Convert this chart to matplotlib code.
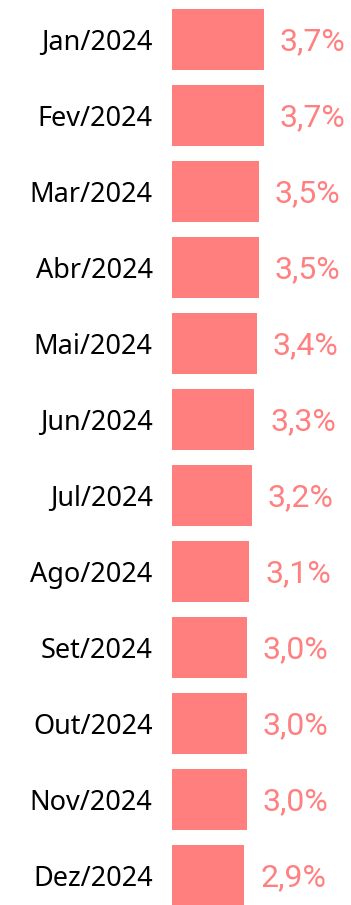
import matplotlib.pyplot as plt

meses = ["Jan/2024", "Fev/2024", "Mar/2024", "Abr/2024", "Mai/2024", "Jun/2024",
         "Jul/2024", "Ago/2024", "Set/2024", "Out/2024", "Nov/2024", "Dez/2024"]
taxa = [3.7, 3.7, 3.5, 3.5, 3.4, 3.3, 3.2, 3.1, 3.0, 3.0, 3.0, 2.9]

cor_barra = "#FF7F7F"
cor_texto = "#FF8080"

fig = plt.figure(figsize=(3.51, 9.05), dpi=100)
ax = fig.add_axes([172 / 351, 0, 179 / 351, 1])

pos = list(range(len(meses)))
ax.barh(pos, taxa, height=0.80, color=cor_barra)

for i, v in enumerate(taxa):
    ax.annotate(f"{v:.1f}%".replace(".", ","), (v, i), xytext=(11.5, -1.5),
                textcoords="offset points", ha="left", va="center",
                fontsize=23, color=cor_texto, family="Roboto")

ax.set_xlim(0, 179 / 24.86)
ax.set_ylim((905 - 39.5) / 76, -39.5 / 76)
ax.set_yticks(pos)
ax.set_yticklabels(meses, family="Noto Sans", fontsize=19.5, color="black")
ax.tick_params(axis="y", length=0, pad=14)
ax.set_xticks([])
for s in ax.spines.values():
    s.set_visible(False)

fig.savefig("out.png", dpi=100)
